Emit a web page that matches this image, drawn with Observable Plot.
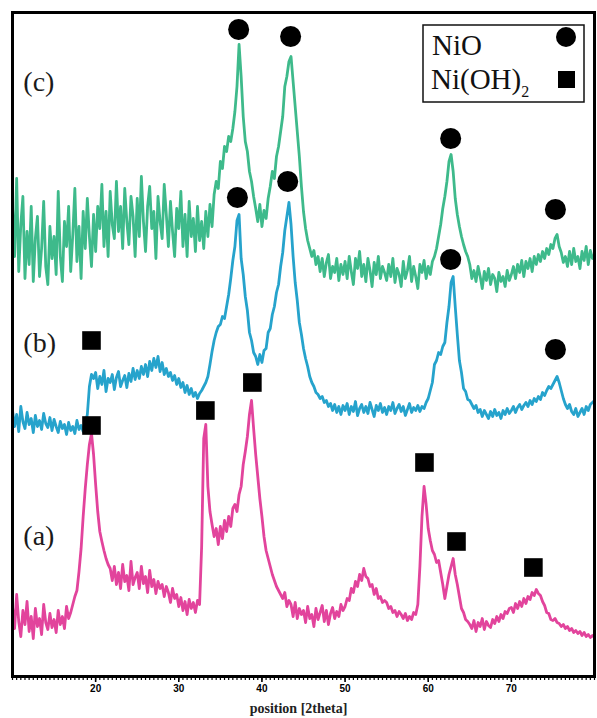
<!DOCTYPE html>
<html><head><meta charset="utf-8">
<script src="https://cdn.jsdelivr.net/npm/d3@7"></script>
<script src="https://cdn.jsdelivr.net/npm/@observablehq/plot@0.6"></script>
<style>body{margin:0;background:#fff;} #chart{width:597px;height:718px;}</style>
</head><body><div id="chart"></div>
<script>
// Scan grid (2theta, degrees)
const thetaStart = 10;
const thetaStep = 0.25;

// (a) magenta sample intensities (a.u.), one per 0.25 deg from 10 to 80
const intensityA = [
  70, 48, 82, 55, 40, 66, 52, 75, 45, 60, 38, 68, 50, 58, 42, 72, 54, 47, 63, 49,
  57, 44, 66, 52, 60, 48, 70, 58, 64, 72, 80, 86, 105, 128, 160, 188, 212, 232, 243, 222,
  192, 165, 145, 135, 126, 118, 112, 108, 96, 110, 92, 104, 88, 112, 95, 101, 86, 115, 92, 99,
  104, 88, 110, 93, 100, 84, 106, 90, 97, 83, 95, 88, 92, 80, 90, 84, 74, 88, 78, 82,
  70, 79, 66, 75, 62, 77, 68, 74, 64, 76, 72, 130, 238, 252, 190, 165, 152, 140, 148, 132,
  150, 138, 156, 145, 160, 150, 168, 172, 165, 182, 190, 212, 225, 240, 262, 276, 248, 222, 200, 178,
  160, 140, 126, 118, 110, 102, 96, 90, 86, 82, 78, 84, 70, 76, 72, 60, 74, 58, 68, 62,
  66, 54, 70, 58, 62, 50, 68, 57, 64, 71, 55, 66, 52, 63, 69, 58, 65, 60, 72, 66,
  70, 78, 76, 88, 84, 95, 90, 102, 96, 108, 100, 98, 90, 92, 82, 88, 78, 80, 74, 76,
  74, 68, 70, 64, 66, 60, 65, 62, 58, 63, 56, 60, 57, 64, 62, 72, 110, 160, 190, 172,
  148, 136, 126, 122, 114, 116, 104, 92, 78, 90, 102, 110, 118, 102, 92, 80, 68, 64, 57, 55,
  52, 48, 56, 45, 54, 50, 58, 47, 55, 51, 49, 57, 53, 60, 55, 62, 58, 65, 63, 68,
  69, 64, 73, 68, 75, 70, 78, 73, 80, 77, 84, 81, 87, 83, 81, 75, 71, 64, 63, 57,
  56, 58, 54, 53, 50, 52, 48, 50, 46, 48, 44, 46, 43, 45, 41, 44, 40, 42, 39, 41,
  39
];

// (b) blue sample
const intensityB = [
  266, 250, 262, 245, 270, 255, 248, 264, 252, 258, 244, 261, 250, 256, 247, 263, 253, 249, 259, 246,
  257, 250, 244, 255, 248, 252, 242, 254, 246, 250, 243, 256, 247, 251, 245, 253, 262, 290, 302, 298,
  304, 288, 300, 292, 306, 285, 298, 294, 302, 287, 299, 305, 290, 296, 301, 289, 303, 295, 308, 297,
  306, 298, 310, 302, 312, 300, 315, 306, 318, 309, 320, 305, 314, 302, 308, 300, 304, 296, 301, 292,
  298, 289, 294, 284, 291, 282, 288, 280, 284, 278, 283, 286, 290, 294, 300, 312, 325, 336, 344, 350,
  352, 360, 358, 370, 382, 398, 416, 430, 456, 462, 418, 402, 380, 366, 344, 336, 324, 320, 312, 322,
  314, 326, 328, 344, 348, 362, 370, 384, 392, 410, 424, 446, 460, 474, 452, 420, 394, 376, 354, 342,
  328, 318, 310, 300, 294, 290, 284, 282, 278, 280, 274, 276, 270, 273, 266, 272, 264, 270, 262, 271,
  266, 273, 262, 270, 265, 275, 261, 268, 272, 264, 270, 263, 274, 267, 260, 271, 266, 273, 264, 269,
  262, 270, 266, 274, 263, 268, 272, 265, 270, 261, 267, 273, 264, 269, 266, 271, 265, 270, 268, 274,
  278, 286, 294, 312, 316, 324, 322, 330, 334, 354, 370, 394, 400, 370, 342, 316, 304, 288, 285, 277,
  276, 272, 268, 271, 264, 267, 260, 266, 262, 258, 265, 260, 267, 261, 264, 258, 266, 262, 268, 263,
  266, 270, 264, 269, 272, 267, 271, 274, 270, 276, 272, 278, 275, 280, 277, 284, 281, 286, 290, 288,
  292, 296, 300, 294, 286, 278, 272, 268, 272, 265, 262, 268, 260, 264, 268, 262, 270, 266, 272, 274,
  276
];

// (c) green sample
const intensityC = [
  470, 420, 498, 405, 452, 480, 398, 445, 412, 470, 395, 438, 460, 400, 428, 475, 410, 392, 450, 418,
  440, 402, 485, 420, 395, 455, 430, 470, 405, 442, 488, 415, 450, 398, 465, 428, 478, 440, 410, 462,
  425, 470, 448, 492, 430, 465, 420, 485, 452, 438, 495, 445, 470, 428, 488, 455, 432, 480, 460, 420,
  478, 440, 500, 455, 425, 470, 490, 448, 465, 418, 480, 455, 438, 492, 462, 430, 475, 445, 420, 468,
  448, 485, 430, 462, 420, 475, 440, 458, 425, 470, 436, 455, 428, 465, 440, 472, 450, 482, 495, 488,
  515, 508, 530, 525, 540, 535, 548, 565, 590, 632, 600, 560, 535, 525, 505, 495, 480, 468, 455, 472,
  450, 466, 458, 478, 490, 505, 498, 520, 530, 545, 560, 590, 600, 615, 620, 595, 570, 545, 520, 490,
  465, 448, 436, 428, 420, 426, 412, 420, 405, 418, 400, 414, 422, 398, 410, 404, 418, 396, 412, 402,
  415, 398, 420, 405, 392, 418, 408, 425, 400, 412, 395, 418, 406, 390, 414, 402, 420, 398, 410, 404,
  396, 412, 400, 418, 394, 408, 402, 390, 415, 398, 406, 420, 395, 410, 400, 388, 412, 404, 416, 398,
  410, 402, 415, 420, 428, 440, 452, 468, 480, 495, 515, 522, 505, 478, 462, 450, 440, 432, 425, 420,
  412, 398, 406, 395, 410, 400, 388, 405, 396, 408, 392, 402, 398, 385, 404, 395, 400, 390, 406, 396,
  402, 410, 398, 412, 404, 416, 400, 415, 408, 418, 405, 420, 412, 422, 415, 425, 418, 428, 422, 432,
  428, 438, 442, 430, 424, 414, 420, 410, 425, 412, 428, 415, 420, 408, 425, 416, 430, 412, 426, 418,
  422
];

const sampleNames = ["(a)", "(b)", "(c)"];
const sampleColors = ["#e2449c", "#26a3cc", "#3eba8b"];
const labelTheta = [11.3, 11.3, 11.3];
const labelIntensity = [140, 333, 594];

// Phase markers
const nioTheta = [37.2, 43.45, 62.7, 75.3, 37.05, 43.1, 62.7, 75.3];
const nioIntensity = [647, 640, 538, 467, 479, 495, 417, 327];
const nioh2Theta = [19.5, 19.5, 33.2, 38.85, 59.55, 63.4, 72.65];
const nioh2Intensity = [336, 251, 266, 294, 214, 135, 109];

const majorTicks = [20, 30, 40, 50, 60, 70];
const legendLabels = ["NiO", "Ni(OH)", "2"];
const xLabel = "position [2theta]";

const toRows = (arr, sample) => arr.map((v, i) => ({theta: thetaStart + i * thetaStep, intensity: v, sample}));
const series = [intensityA, intensityB, intensityC].map((arr, k) => toRows(arr, sampleNames[k]));
const nio = nioTheta.map((t, i) => ({theta: t, intensity: nioIntensity[i]}));
const nioh2 = nioh2Theta.map((t, i) => ({theta: t, intensity: nioh2Intensity[i]}));
const labels = sampleNames.map((s, i) => ({text: s, theta: labelTheta[i], intensity: labelIntensity[i]}));
const minorTicks = d3.range(10, 80.001, 0.5);

const svg = Plot.plot({
  width: 597,
  height: 718,
  marginTop: 12,
  marginBottom: 42,
  marginLeft: 12,
  marginRight: 3,
  style: {fontFamily: "Liberation Sans", background: "white"},
  x: {domain: [10, 80]},
  y: {domain: [0, 664], axis: null},
  marks: [
    Plot.axisX({ticks: minorTicks, tickSize: 4, tickFormat: () => "", label: null, strokeWidth: 1.2}),
    Plot.axisX({ticks: majorTicks, tickSize: 6, tickPadding: 2, label: null, fontWeight: "bold", fontSize: 10, strokeWidth: 1.6}),
    ...series.map((rows, k) => Plot.line(rows, {x: "theta", y: "intensity", stroke: sampleColors[k], strokeWidth: 2.8, strokeLinejoin: "round"})),
    Plot.dot(nio, {x: "theta", y: "intensity", r: 10.5, fill: "black", symbol: "circle"}),
    Plot.dot(nioh2, {x: "theta", y: "intensity", r: 10.5, fill: "black", symbol: "square"}),
    Plot.text(labels, {x: "theta", y: "intensity", text: "text", fontSize: 28, fontFamily: "Liberation Serif", textAnchor: "start", lineAnchor: "middle", fill: "#1a1a1a"}),
    Plot.text([xLabel], {frameAnchor: "bottom", dy: 36, dx: -5, fontWeight: "bold", fontSize: 14, fontFamily: "Liberation Serif", fill: "#222"}),
    Plot.frame({stroke: "black", strokeWidth: 3})
  ]
});

// Legend box
const lg = d3.select(svg).append("g").attr("text-anchor", "start");
lg.append("rect").attr("x", 423).attr("y", 25).attr("width", 161).attr("height", 77)
  .attr("fill", "white").attr("stroke", "#111").attr("stroke-width", 1.5);
lg.append("text").attr("x", 432).attr("y", 55).attr("font-family", "Liberation Serif").attr("font-size", 29)
  .attr("text-anchor", "start").attr("fill", "#111").text(legendLabels[0]);
const t2 = lg.append("text").attr("x", 431).attr("y", 89).attr("font-family", "Liberation Serif").attr("font-size", 29)
  .attr("text-anchor", "start").attr("fill", "#111");
t2.append("tspan").text(legendLabels[1]);
t2.append("tspan").attr("font-size", 16).attr("dy", 8).text(legendLabels[2]);
lg.append("circle").attr("cx", 566).attr("cy", 37).attr("r", 10).attr("fill", "black");
lg.append("rect").attr("x", 558).attr("y", 71).attr("width", 17).attr("height", 17).attr("fill", "black");

document.getElementById("chart").appendChild(svg);
</script>
</body></html>
